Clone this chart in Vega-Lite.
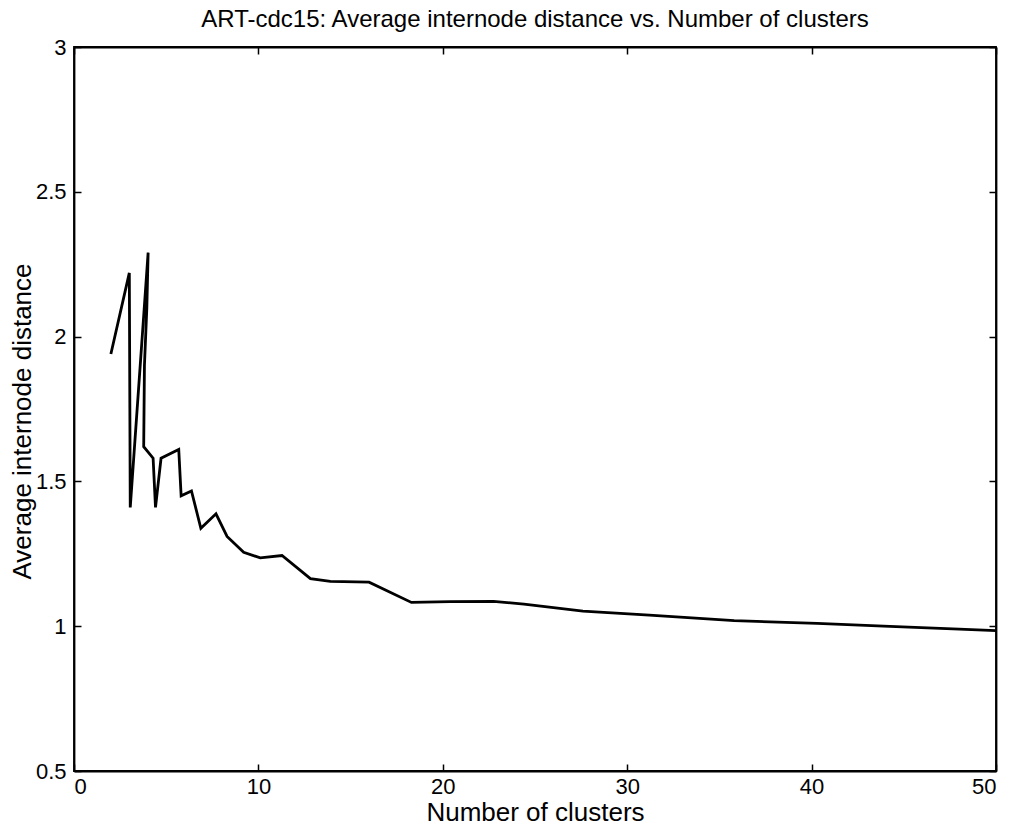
{
  "$schema": "https://vega.github.io/schema/vega-lite/v6.json",
  "autosize": {"type": "none"},
  "padding": {"left": 74, "top": 47, "right": 19, "bottom": 64},
  "width": 922,
  "height": 724,
  "background": "white",
  "title": {"text": "ART-cdc15: Average internode distance vs. Number of clusters", "font": "Liberation Sans", "fontSize": 24, "fontWeight": "normal", "color": "black", "offset": 4},
  "config": {
    "view": {"stroke": "black", "strokeWidth": 1.8},
    "axis": {"grid": false, "domainColor": "black", "tickColor": "black", "labelColor": "black", "titleColor": "black", "labelFont": "Liberation Sans", "titleFont": "Liberation Sans", "labelFontSize": 22, "titleFontSize": 26, "titleFontWeight": "normal", "tickSize": -7, "domainWidth": 1.8, "tickWidth": 1.5}
  },
  "data": {"values": [
    {"i": 1, "k": 2.0, "d": 1.94},
    {"i": 2, "k": 3.0, "d": 2.22},
    {"i": 3, "k": 3.05, "d": 1.41},
    {"i": 4, "k": 4.02, "d": 2.29},
    {"i": 5, "k": 3.95, "d": 2.1},
    {"i": 6, "k": 3.82, "d": 1.9},
    {"i": 7, "k": 3.78, "d": 1.62},
    {"i": 8, "k": 4.29, "d": 1.58},
    {"i": 9, "k": 4.42, "d": 1.41},
    {"i": 10, "k": 4.72, "d": 1.58},
    {"i": 11, "k": 5.68, "d": 1.61},
    {"i": 12, "k": 5.81, "d": 1.45},
    {"i": 13, "k": 6.37, "d": 1.467},
    {"i": 14, "k": 6.88, "d": 1.338},
    {"i": 15, "k": 7.7, "d": 1.388},
    {"i": 16, "k": 8.3, "d": 1.31},
    {"i": 17, "k": 9.2, "d": 1.255},
    {"i": 18, "k": 10.1, "d": 1.236},
    {"i": 19, "k": 11.28, "d": 1.244},
    {"i": 20, "k": 12.82, "d": 1.164},
    {"i": 21, "k": 13.9, "d": 1.155},
    {"i": 22, "k": 16.0, "d": 1.152},
    {"i": 23, "k": 18.3, "d": 1.082},
    {"i": 24, "k": 20.4, "d": 1.085},
    {"i": 25, "k": 22.75, "d": 1.086},
    {"i": 26, "k": 24.4, "d": 1.076},
    {"i": 27, "k": 27.6, "d": 1.052},
    {"i": 28, "k": 31.2, "d": 1.038},
    {"i": 29, "k": 35.8, "d": 1.019},
    {"i": 30, "k": 40.3, "d": 1.01},
    {"i": 31, "k": 43.9, "d": 1.0},
    {"i": 32, "k": 48.0, "d": 0.99},
    {"i": 33, "k": 50.0, "d": 0.985}
  ]},
  "layer": [
    {
      "mark": {"type": "line", "color": "black", "strokeWidth": 2.8},
      "encoding": {
        "x": {"field": "k", "type": "quantitative", "scale": {"domain": [0, 50], "nice": false}, "axis": {"title": "Number of clusters", "values": [0, 10, 20, 30, 40, 50], "labelPadding": 12, "titlePadding": 2}},
        "y": {"field": "d", "type": "quantitative", "scale": {"domain": [0.5, 3], "nice": false, "zero": false}, "axis": {"title": "Average internode distance", "values": [0.5, 1, 1.5, 2, 2.5, 3], "format": "~g", "labelPadding": 15, "titlePadding": 0, "titleY": 374}},
        "order": {"field": "i"}
      }
    },
    {
      "mark": {"type": "line", "opacity": 0},
      "encoding": {
        "x": {"field": "k", "type": "quantitative", "axis": {"orient": "top", "labels": false, "title": null, "values": [0, 10, 20, 30, 40, 50]}},
        "y": {"field": "d", "type": "quantitative", "axis": {"orient": "right", "labels": false, "title": null, "values": [0.5, 1, 1.5, 2, 2.5, 3]}},
        "order": {"field": "i"}
      }
    }
  ],
  "resolve": {"axis": {"x": "independent", "y": "independent"}}
}
